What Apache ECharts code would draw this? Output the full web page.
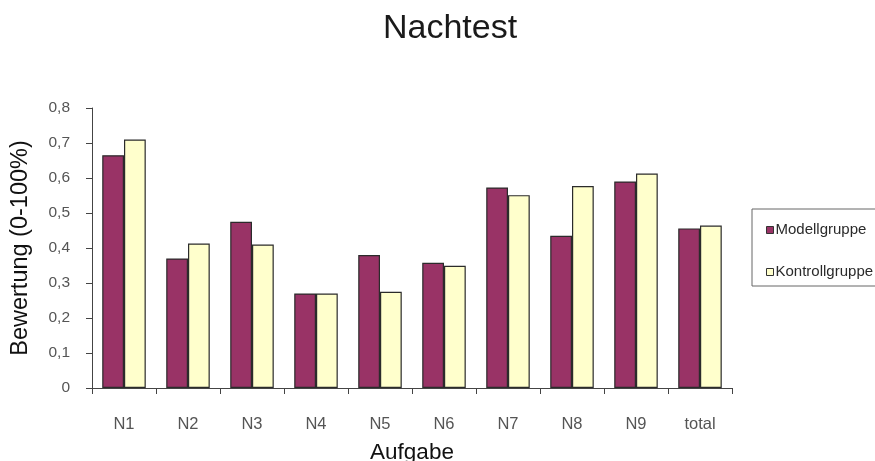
<!DOCTYPE html>
<html>
<head>
<meta charset="utf-8">
<script src="https://cdn.jsdelivr.net/npm/echarts@6/dist/echarts.min.js"></script>
<style>
  html, body { margin: 0; padding: 0; background: #fff; }
  #chart { width: 875px; height: 461px; }
</style>
</head>
<body>
<div id="chart"></div>
<script>
// Task categories and group averages (score 0..1)
var categories = ['N1', 'N2', 'N3', 'N4', 'N5', 'N6', 'N7', 'N8', 'N9', 'total'];
var modellgruppe = [0.665, 0.37, 0.475, 0.27, 0.38, 0.358, 0.573, 0.435, 0.59, 0.456];
var kontrollgruppe = [0.71, 0.413, 0.41, 0.27, 0.275, 0.349, 0.551, 0.577, 0.613, 0.464];
var seriesNames = ['Modellgruppe', 'Kontrollgruppe'];

var font = 'Liberation Sans, Arial, sans-serif';
var chart = echarts.init(document.getElementById('chart'), null, { renderer: 'canvas' });

chart.setOption({
  animation: false,
  backgroundColor: '#ffffff',
  title: {
    text: 'Nachtest',
    left: 378,
    top: 7,
    textStyle: { fontFamily: font, fontSize: 34, fontWeight: 'normal', color: '#1a1a1a' }
  },
  legend: {
    orient: 'vertical',
    left: 752,
    top: 209,
    padding: [13, 60, 6, 14],
    itemGap: 26,
    itemWidth: 7,
    itemHeight: 7,
    icon: 'rect',
    borderColor: '#666',
    borderWidth: 1,
    itemStyle: { borderColor: '#333', borderWidth: 1 },
    textStyle: { fontFamily: font, fontSize: 15, color: '#2a2a2a', lineHeight: 16, padding: [0, 0, 0, -3] },
    data: seriesNames
  },
  grid: {
    left: 92, right: 143, top: 108, bottom: 73,
    containLabel: false,
    outerBoundsMode: 'none'
  },
  xAxis: {
    type: 'category',
    data: categories,
    name: 'Aufgabe',
    nameLocation: 'middle',
    nameGap: 53,
    nameTextStyle: { fontFamily: font, fontSize: 22.5, color: '#111' },
    axisLine: { lineStyle: { color: '#444', width: 1 } },
    axisTick: { show: true, length: 6, interval: 0, lineStyle: { color: '#444' } },
    axisLabel: { fontFamily: font, fontSize: 16.5, color: '#555', margin: 28, interval: 0 }
  },
  yAxis: {
    type: 'value',
    min: 0,
    max: 0.8,
    interval: 0.1,
    name: 'Bewertung (0-100%)',
    nameLocation: 'middle',
    nameGap: 59,
    nameTextStyle: { fontFamily: font, fontSize: 23.5, color: '#111' },
    axisLine: { show: true, lineStyle: { color: '#444', width: 1 } },
    axisTick: { show: true, length: 6, lineStyle: { color: '#444' } },
    splitLine: { show: false },
    axisLabel: {
      fontFamily: font, fontSize: 15.5, color: '#555', margin: 22,
      formatter: function (v) { return v === 0 ? '0' : v.toFixed(1).replace('.', ','); }
    }
  },
  series: [
    {
      name: seriesNames[0],
      type: 'bar',
      data: modellgruppe,
      barGap: '0%',
      barCategoryGap: '32%',
      itemStyle: { color: '#993366', borderColor: '#2b2b2b', borderWidth: 1.2 }
    },
    {
      name: seriesNames[1],
      type: 'bar',
      data: kontrollgruppe,
      barGap: '0%',
      barCategoryGap: '32%',
      itemStyle: { color: '#FFFFCC', borderColor: '#2b2b2b', borderWidth: 1.2 }
    }
  ]
});
</script>
</body>
</html>
